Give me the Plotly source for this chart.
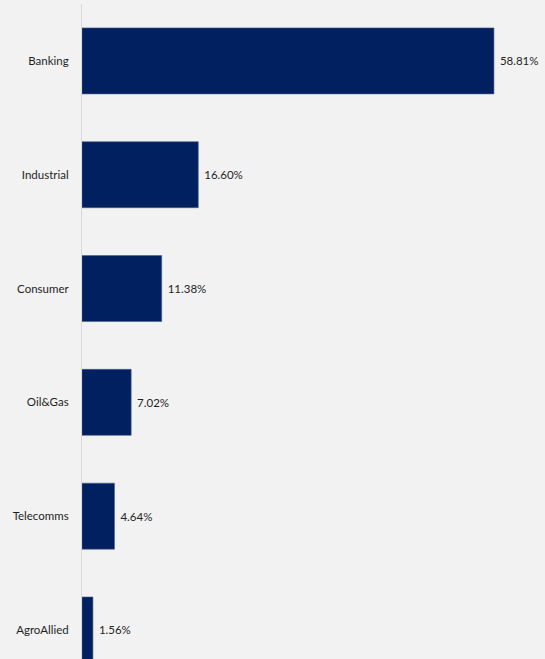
import plotly.graph_objects as go

sectors = ["Banking", "Industrial", "Consumer", "Oil&Gas", "Telecomms", "AgroAllied"]
shares = [58.81, 16.60, 11.38, 7.02, 4.64, 1.56]
labels = ["58.81%", "16.60%", "11.38%", "7.02%", "4.64%", "1.56%"]

fig = go.Figure(go.Bar(
    x=shares,
    y=sectors,
    orientation="h",
    width=0.58,
    marker=dict(color="#002060", line=dict(color="#4b5f8c", width=0.6)),
    text=["\u00a0" + t for t in labels],
    textposition="outside",
    textfont=dict(family="Lato, Carlito, sans-serif", size=11.5, color="#1f1f1f"),
    cliponaxis=False,
))

fig.update_layout(
    width=545,
    height=659,
    margin=dict(l=82, r=0, t=4, b=0),
    paper_bgcolor="#f2f2f2",
    plot_bgcolor="#f2f2f2",
    showlegend=False,
    font=dict(family="Lato, Carlito, sans-serif", size=11, color="#1f1f1f"),
    xaxis=dict(range=[0, 66.1], visible=False, showgrid=False, zeroline=False),
    yaxis=dict(
        type="category",
        categoryorder="array",
        categoryarray=sectors,
        range=[5.255, -0.5],
        showline=True,
        linecolor="#d9d9d9",
        linewidth=1,
        showgrid=False,
        ticks="outside",
        ticklen=10,
        tickcolor="rgba(0,0,0,0)",
        tickfont=dict(family="Lato, Carlito, sans-serif", size=11.5, color="#1f1f1f"),
    ),
)

fig.write_html("out.html")
